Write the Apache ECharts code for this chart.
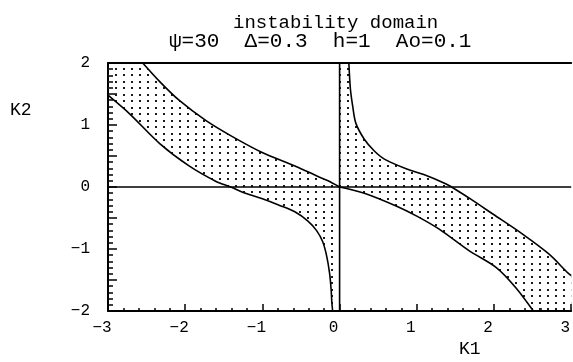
<!DOCTYPE html>
<html>
<head>
<meta charset="utf-8">
<script src="https://cdn.jsdelivr.net/npm/echarts@6/dist/echarts.min.js"></script>
<style>
  html, body { margin: 0; padding: 0; background: #fff; }
  #chart { width: 573px; height: 362px; }
</style>
</head>
<body>
<div id="chart"></div>
<script>
// Boundary curves of the instability domain in the (K1, K2) plane
const lowerLeft = [
  [-3.00, 1.48], [-2.72, 1.18], [-2.33, 0.70], [-1.95, 0.34], [-1.60, 0.09],
  [-1.41, 0.00], [-1.22, -0.10], [-1.00, -0.19], [-0.79, -0.29], [-0.58, -0.40],
  [-0.41, -0.55], [-0.30, -0.70], [-0.22, -0.88], [-0.17, -1.10], [-0.13, -1.39],
  [-0.11, -1.65], [-0.10, -1.87], [-0.09, -2.00]
];
const upperLeft = [
  [-2.55, 2.00], [-2.33, 1.70], [-2.08, 1.40], [-1.73, 1.07], [-1.40, 0.82],
  [-1.01, 0.56], [-0.58, 0.34], [-0.28, 0.17], [-0.15, 0.10], [0.00, 0.00]
];
const upperRight = [
  [0.12, 2.00], [0.14, 1.58], [0.17, 1.30], [0.21, 1.03], [0.32, 0.77],
  [0.45, 0.58], [0.58, 0.45], [0.87, 0.29], [1.09, 0.20], [1.38, 0.05],
  [1.45, 0.00], [1.68, -0.18], [1.99, -0.44], [2.37, -0.76], [2.71, -1.08],
  [2.96, -1.39], [3.00, -1.43]
];
const lowerRight = [
  [0.00, 0.00], [0.32, -0.10], [0.74, -0.31], [1.00, -0.47], [1.29, -0.68],
  [1.68, -1.03], [2.03, -1.30], [2.28, -1.62], [2.51, -2.00]
];
const zeroLineK2 = [[-3, 0], [3, 0]];
const zeroLineK1 = [[0, -2], [0, 2]];

const titleText = 'instability domain';
const paramText = 'ψ=30  Δ=0.3  h=1  Ao=0.1';

// Closed outlines of the two shaded regions
const leftRegion = lowerLeft
  .concat([[0, -2], [0, 0]])
  .concat(upperLeft.slice().reverse())
  .concat([[-3, 2]]);
const rightRegion = [[0, 2]]
  .concat(upperRight)
  .concat([[3, -2]])
  .concat(lowerRight.slice().reverse());
const regions = [leftRegion, rightRegion];

// Dot-screen fill
const tile = document.createElement('canvas');
tile.width = 8; tile.height = 13;
const tctx = tile.getContext('2d');
tctx.fillStyle = '#1a1a1a';
tctx.fillRect(3, 3, 2, 2);
tctx.fillRect(3, 9, 2, 2);
const dotFill = { image: tile, repeat: 'repeat' };

const FONT = '"Liberation Mono", "DejaVu Sans Mono", monospace';
const fmt = v => {
  if (Math.abs(v - Math.round(v)) > 1e-6) return '';
  const r = Math.round(v);
  return r < 0 ? '\u2212' + Math.abs(r) : String(r);
};

const curve = (data, smooth) => ({
  type: 'line', data, symbol: 'none', silent: true, z: 3, smooth: smooth || false,
  lineStyle: { color: '#000', width: 1.6 }
});

const chart = echarts.init(document.getElementById('chart'), null, { renderer: 'canvas' });
chart.setOption({
  animation: false,
  backgroundColor: '#fff',
  title: [
    { text: titleText, left: 228, top: 8,
      textStyle: { fontFamily: FONT, fontSize: 19, fontWeight: 'normal', color: '#000' } },
    { text: paramText, left: 164, top: 26,
      textStyle: { fontFamily: FONT, fontSize: 21, fontWeight: 'normal', color: '#000' } }
  ],
  grid: { left: 108, top: 63, width: 468, height: 248 },
  xAxis: [{
    type: 'value', min: -3, max: 3, interval: 1, position: 'bottom',
    axisLine: { onZero: false, lineStyle: { color: '#000', width: 2 } },
    axisTick: { inside: true, length: 7, lineStyle: { color: '#000', width: 1.5 } },
    minorTick: { show: true, splitNumber: 5, length: 3, lineStyle: { color: '#000', width: 1.5 } },
    splitLine: { show: false },
    axisLabel: { color: '#000', fontFamily: FONT, fontSize: 16, margin: 9,
      padding: [0, 12, 0, 0], formatter: fmt }
  }, {
    type: 'value', min: -3, max: 3, position: 'top',
    axisLine: { onZero: false, lineStyle: { color: '#000', width: 2 } },
    axisTick: { show: false }, axisLabel: { show: false }, splitLine: { show: false }
  }],
  yAxis: {
    type: 'value', min: -2, max: 2, interval: 0.5,
    axisLine: { onZero: false, lineStyle: { color: '#000', width: 2 } },
    axisTick: { inside: true, length: 9, lineStyle: { color: '#000', width: 1.5 } },
    minorTick: { show: true, splitNumber: 5, length: 5, lineStyle: { color: '#000', width: 1.5 } },
    splitLine: { show: false },
    axisLabel: { color: '#000', fontFamily: FONT, fontSize: 16, margin: 18, formatter: fmt }
  },
  graphic: [
    { type: 'text', left: 10, top: 101,
      style: { text: 'K2', font: '18px ' + FONT, fill: '#000' } },
    { type: 'text', left: 459, top: 340,
      style: { text: 'K1', font: '18px ' + FONT, fill: '#000' } }
  ],
  series: [
    {
      type: 'custom', coordinateSystem: 'cartesian2d', silent: true, z: 1,
      data: [[0, 0], [1, 0]],
      renderItem: (params, api) => ({
        type: 'polygon',
        shape: { points: regions[params.dataIndex].map(p => api.coord(p)) },
        style: { fill: dotFill, stroke: null }
      })
    },
    curve(lowerLeft, 0.3),
    curve(upperLeft, 0.3),
    curve(upperRight, 0.3),
    curve(lowerRight, 0.3),
    curve(zeroLineK2),
    curve(zeroLineK1)
  ]
});
</script>
</body>
</html>
